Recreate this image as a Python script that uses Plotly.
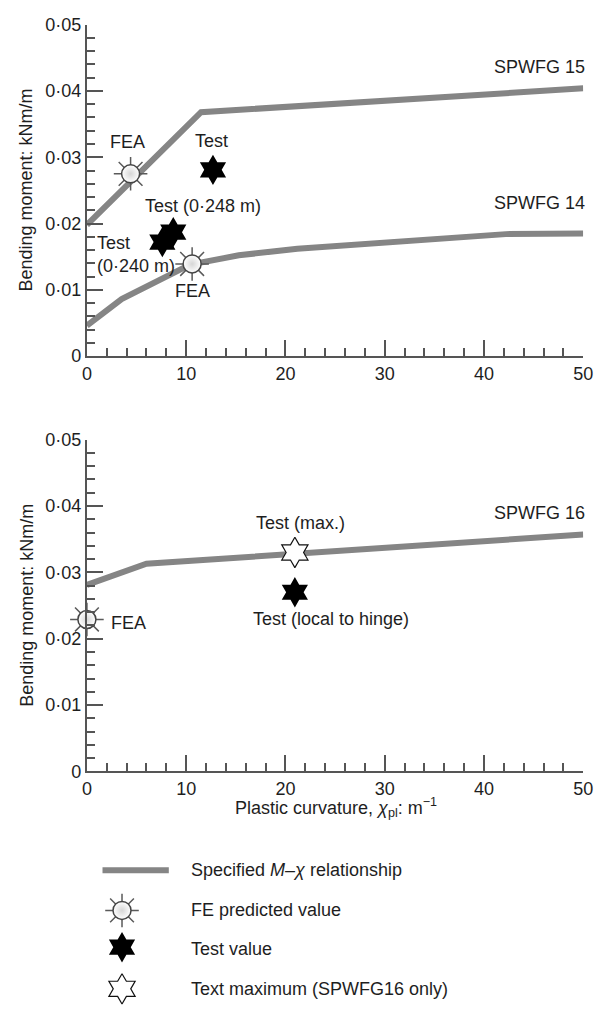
import plotly.graph_objects as go

# ---------------- data ----------------
x15 = [0, 11.5, 50]
y15 = [0.0198, 0.0368, 0.0404]
x14 = [0, 3.5, 10.4, 15.3, 21.2, 42.2, 50]
y14 = [0.0046, 0.0086, 0.0138, 0.0152, 0.0162, 0.0184, 0.0185]
x16 = [0, 6, 50]
y16 = [0.0281, 0.0313, 0.0357]

fea_top_x = [4.4, 10.6]
fea_top_y = [0.0275, 0.0139]
test_top_x = [12.7, 8.7, 7.6]
test_top_y = [0.0281, 0.0187, 0.0172]

fea_bot_x = [0]
fea_bot_y = [0.0229]
test_bot_x = [20.95]
test_bot_y = [0.0270]
max_bot_x = [20.95]
max_bot_y = [0.0330]

y_tickvals = [0, 0.01, 0.02, 0.03, 0.04, 0.05]
y_ticktext = ["0", "0·01", "0·02", "0·03", "0·04", "0·05"]
x_tickvals = [0, 10, 20, 30, 40, 50]
x_ticktext = ["0", "10", "20", "30", "40", "50"]

legend_labels = ["Specified <i>M</i>–<i>χ</i> relationship", "FE predicted value",
                 "Test value", "Text maximum (SPWFG16 only)"]

# ---------------- style ----------------
W, H = 602, 1017
FONT = "Liberation Sans, Arial, Helvetica, sans-serif"
TXT = "#1e1e1e"
LINE_C = "#858585"
AX_C = "#555555"
RAY_C = "#5a5a5a"
FS = 18

fig = go.Figure()

def line_trace(x, y, xa, ya):
    fig.add_trace(go.Scatter(x=x, y=y, mode="lines", xaxis=xa, yaxis=ya,
                             line=dict(color=LINE_C, width=6), cliponaxis=False,
                             showlegend=False, hoverinfo="skip"))

def star_trace(x, y, xa, ya, filled=True):
    if filled:
        m = dict(symbol="hexagram", size=23, color="black", line=dict(width=0))
    else:
        m = dict(symbol="hexagram", size=23, color="white", line=dict(color="#111", width=1.2))
    fig.add_trace(go.Scatter(x=x, y=y, mode="markers", xaxis=xa, yaxis=ya, marker=m,
                             cliponaxis=False, showlegend=False, hoverinfo="skip"))

def sun_trace(x, y, xa, ya):
    fig.add_trace(go.Scatter(x=x, y=y, mode="markers", xaxis=xa, yaxis=ya,
                             marker=dict(symbol="asterisk-open", size=28, color=RAY_C,
                                         line=dict(color=RAY_C, width=1.5)),
                             cliponaxis=False, showlegend=False, hoverinfo="skip"))
    fig.add_trace(go.Scatter(x=x, y=y, mode="markers", xaxis=xa, yaxis=ya,
                             marker=dict(symbol="circle", size=18, color="white",
                                         gradient=dict(type="radial", color="#d6d6d6"),
                                         line=dict(color="#444", width=1.5)),
                             cliponaxis=False, showlegend=False, hoverinfo="skip"))

# top chart
line_trace(x15, y15, "x", "y")
line_trace(x14, y14, "x", "y")
star_trace(test_top_x, test_top_y, "x", "y")
sun_trace(fea_top_x, fea_top_y, "x", "y")

# bottom chart
line_trace(x16, y16, "x2", "y2")
star_trace(test_bot_x, test_bot_y, "x2", "y2")
star_trace(max_bot_x, max_bot_y, "x2", "y2", filled=False)
sun_trace(fea_bot_x, fea_bot_y, "x2", "y2")

# legend (pixel-coordinate overlay axes)
fig.add_trace(go.Scatter(x=[100, 168], y=[877.5, 877.5], mode="lines", xaxis="x3", yaxis="y3",
                         line=dict(color=LINE_C, width=6), cliponaxis=False,
                         showlegend=False, hoverinfo="skip"))
sun_trace([120], [918.5], "x3", "y3")
star_trace([120], [956], "x3", "y3")
star_trace([120], [998.5], "x3", "y3", filled=False)

# ---------------- axes ----------------
x0, x1 = 84 / W, 593 / W
top_dom = [1 - 353 / H, 1 - 15 / H]
bot_dom = [1 - 776.7 / H, 1 - 438.3 / H]
XR = [0, 50.0001]
YR = [0, 0.0500001]

def xaxis(anchor):
    return dict(domain=[x0, x1], range=XR, anchor=anchor, showgrid=False, zeroline=False,
                showline=True, linecolor=AX_C, linewidth=2,
                ticks="inside", ticklen=16, tickwidth=2, tickcolor=AX_C,
                tickvals=x_tickvals, ticktext=x_ticktext, ticklabeloverflow="allow",
                tickfont=dict(family=FONT, size=FS, color=TXT),
                minor=dict(ticks="inside", ticklen=8, tickwidth=2, tickcolor=AX_C, dtick=2,
                           showgrid=False),
                fixedrange=True)

def yaxis(anchor, dom):
    return dict(domain=dom, range=YR, anchor=anchor, showgrid=False, zeroline=False,
                showline=True, linecolor=AX_C, linewidth=2,
                ticks="inside", ticklen=16, tickwidth=2, tickcolor=AX_C,
                tickvals=y_tickvals, ticktext=y_ticktext,
                ticklabeloverflow="allow",
                tickfont=dict(family=FONT, size=FS, color=TXT),
                minor=dict(ticks="inside", ticklen=8, tickwidth=2, tickcolor=AX_C, dtick=0.002,
                           showgrid=False),
                fixedrange=True)

fig.update_layout(
    width=W, height=H, autosize=False,
    margin=dict(l=0, r=0, t=0, b=0),
    paper_bgcolor="white", plot_bgcolor="rgba(0,0,0,0)",
    font=dict(family=FONT, size=FS, color=TXT),
    showlegend=False,
    xaxis=xaxis("y"), yaxis=yaxis("x", top_dom),
    xaxis2=xaxis("y2"), yaxis2=yaxis("x2", bot_dom),
    xaxis3=dict(domain=[0, 1], range=[0, W], anchor="y3", visible=False, fixedrange=True),
    yaxis3=dict(domain=[0, 1], range=[H, 0], anchor="x3", visible=False, fixedrange=True),
)

ann = []
def txt(x, y, s, xr, yr, xanchor="center", align="center", xshift=0):
    ann.append(dict(x=x, y=y, xref=xr, yref=yr, text=s, showarrow=False,
                    xanchor=xanchor, yanchor="middle", align=align, xshift=xshift,
                    font=dict(family=FONT, size=FS, color=TXT)))

# top chart labels
txt(4.1, 0.0323, "FEA", "x", "y")
txt(12.6, 0.0325, "Test", "x", "y")
txt(11.7, 0.0226, "Test (0·248 m)", "x", "y")
txt(0.8, 0.0154, "Test<br>(0·240 m)", "x", "y", xanchor="left", align="left")
txt(10.6, 0.0098, "FEA", "x", "y")
txt(50, 0.0436, "SPWFG 15", "x", "y", xanchor="right", xshift=4)
txt(50, 0.0231, "SPWFG 14", "x", "y", xanchor="right", xshift=4)

# bottom chart labels
txt(2.2, 0.0224, "FEA", "x2", "y2", xanchor="left")
txt(21.5, 0.0374, "Test (max.)", "x2", "y2")
txt(24.6, 0.0229, "Test (local to hinge)", "x2", "y2")
txt(50, 0.0389, "SPWFG 16", "x2", "y2", xanchor="right", xshift=4)

# axis titles
for yc in [184, 607.5]:
    ann.append(dict(x=21.7, y=yc, xref="x3", yref="y3", text="Bending moment: kNm/m",
                    showarrow=False, textangle=-90, xanchor="center", yanchor="middle",
                    font=dict(family=FONT, size=FS, color=TXT)))
txt(339, 814, "Plastic curvature, <i>χ</i><sub>pl</sub>: m<sup>−1</sup>", "x3", "y3")

# legend texts
for lab, yy in zip(legend_labels, [877, 918.5, 958, 998.5]):
    txt(189, yy, lab, "x3", "y3", xanchor="left", align="left")

fig.update_layout(annotations=ann)
fig.write_html("out.html")
